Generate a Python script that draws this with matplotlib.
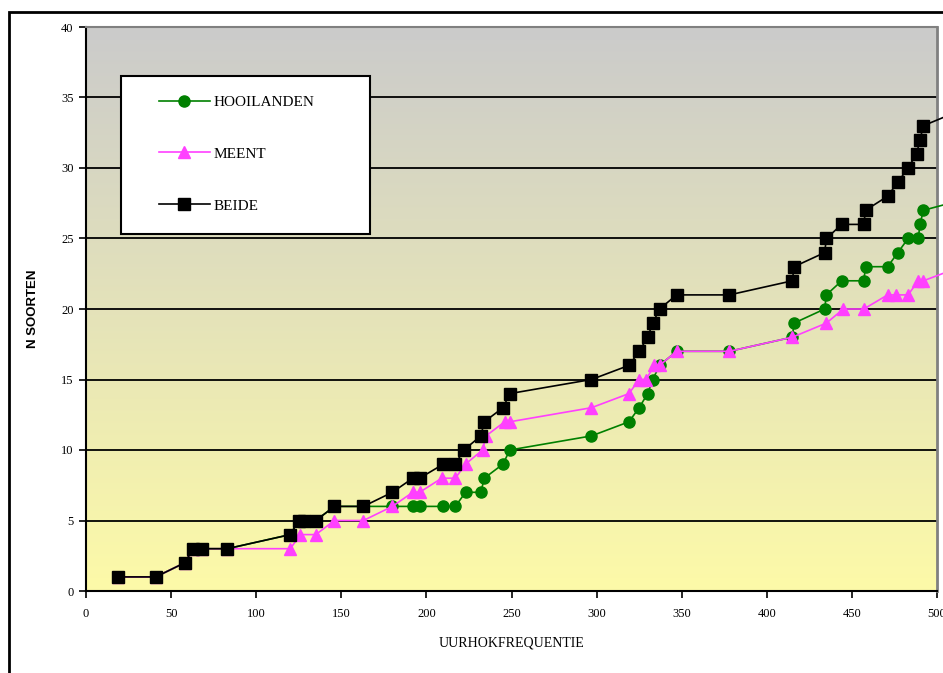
import matplotlib
matplotlib.use("Agg")
import matplotlib.pyplot as plt
import numpy as np
from matplotlib.colors import LinearSegmentedColormap
from matplotlib.patches import Rectangle
from matplotlib.lines import Line2D

# cumulatief aantal soorten tegen uurhokfrequentie
beide_x = [19, 41, 58, 63, 68, 83, 120, 125, 128, 135, 146, 163, 180, 192, 196,
           210, 217, 222, 232, 234, 245, 249, 297, 319, 325, 330, 333, 337, 347,
           378, 415, 416, 434, 435, 444, 457, 458, 471, 477, 483, 488, 490, 492, 512]
beide_y = [1, 1, 2, 3, 3, 3, 4, 5, 5, 5, 6, 6, 7, 8, 8,
           9, 9, 10, 11, 12, 13, 14, 15, 16, 17, 18, 19, 20, 21,
           21, 22, 23, 24, 25, 26, 26, 27, 28, 29, 30, 31, 32, 33, 34]

meent_x = [19, 41, 58, 63, 68, 83, 120, 126, 135, 146, 163, 180, 192, 196,
           209, 217, 223, 233, 235, 246, 249, 297, 319, 325, 329, 334, 337, 347,
           378, 415, 435, 445, 457, 471, 476, 483, 489, 492, 514]
meent_y = [1, 1, 2, 3, 3, 3, 3, 4, 4, 5, 5, 6, 7, 7,
           8, 8, 9, 10, 11, 12, 12, 13, 14, 15, 15, 16, 16, 17,
           17, 18, 19, 20, 20, 21, 21, 21, 22, 22, 23]

hooi_x = [19, 41, 58, 63, 68, 83, 120, 125, 128, 135, 146, 163, 180, 192, 196,
          210, 217, 223, 232, 234, 245, 249, 297, 319, 325, 330, 333, 337, 347,
          378, 415, 416, 434, 435, 444, 457, 458, 471, 477, 483, 489, 490, 492, 523]
hooi_y = [1, 1, 2, 3, 3, 3, 4, 5, 5, 5, 6, 6, 6, 6, 6,
          6, 6, 7, 7, 8, 9, 10, 11, 12, 13, 14, 15, 16, 17,
          17, 18, 19, 20, 21, 22, 22, 23, 23, 24, 25, 25, 26, 27, 28]

fig = plt.figure(figsize=(9.43, 6.73), dpi=100)
ax = fig.add_axes([86 / 943, 1 - 591 / 673, 851 / 943, 564 / 673])

# achtergrond: verloop van grijs (boven) naar lichtgeel (onder)
cmap = LinearSegmentedColormap.from_list("bg", ["#fdfaa8", "#cbcbcb"])
grad = np.linspace(0, 1, 256).reshape(-1, 1)
ax.imshow(grad, extent=[0, 500, 0, 40], origin="lower", aspect="auto",
          cmap=cmap, zorder=0)

for yv in range(5, 40, 5):
    ax.axhline(yv, color="black", lw=1.3, zorder=1)

ax.plot(hooi_x, hooi_y, color="#008000", lw=1.2, marker="o", ms=8,
        clip_on=False, zorder=3, label="HOOILANDEN")
ax.plot(meent_x, meent_y, color="#ff40ff", lw=1.2, marker="^", ms=9,
        clip_on=False, zorder=4, label="MEENT")
ax.plot(beide_x, beide_y, color="black", lw=1.2, marker="s", ms=8,
        clip_on=False, zorder=5, label="BEIDE")

ax.set_xlim(0, 500)
ax.set_ylim(0, 40)
ax.set_xticks(range(0, 501, 50))
ax.set_yticks(range(0, 41, 5))
ax.tick_params(direction="out", length=5, width=1.2, labelsize=9, pad=7)
ax.tick_params(axis="y", pad=4)
for lab in ax.get_xticklabels() + ax.get_yticklabels():
    lab.set_family("Liberation Serif")

ax.spines["left"].set_linewidth(1.5)
ax.spines["bottom"].set_linewidth(1.5)
ax.spines["top"].set_color("#808080")
ax.spines["right"].set_color("#808080")
ax.spines["top"].set_linewidth(1.5)
ax.spines["right"].set_linewidth(2)

ax.set_xlabel("UURHOKFREQUENTIE", family="Liberation Serif", fontsize=10,
              labelpad=12)
ax.set_ylabel("N SOORTEN", family="Liberation Sans", fontsize=9.5,
              fontweight="bold", labelpad=16)

# legendakader
ax.add_patch(Rectangle((0.041, 0.633), 0.293, 0.28, transform=ax.transAxes,
                       facecolor="white", edgecolor="black", lw=1.5, zorder=6))
handles = [
    Line2D([], [], color="#008000", lw=1.2, marker="o", ms=8),
    Line2D([], [], color="#ff40ff", lw=1.2, marker="^", ms=9),
    Line2D([], [], color="black", lw=1.2, marker="s", ms=8),
]
leg = ax.legend(handles, ["HOOILANDEN", "MEENT", "BEIDE"], loc="upper left",
                bbox_to_anchor=(0.086, 0.879), frameon=False, borderpad=0,
                borderaxespad=0, handlelength=3.3, handletextpad=0.25,
                labelspacing=2.5, prop={"family": "Liberation Serif", "size": 11})
leg.set_zorder(7)

# zwart kader rond de grafiek
fig.patches.append(Rectangle((9 / 943, -0.1), 1.2, 1.1 - 12 / 673,
                             transform=fig.transFigure, fill=False,
                             edgecolor="black", lw=2))

fig.savefig("out.png", dpi=100)
